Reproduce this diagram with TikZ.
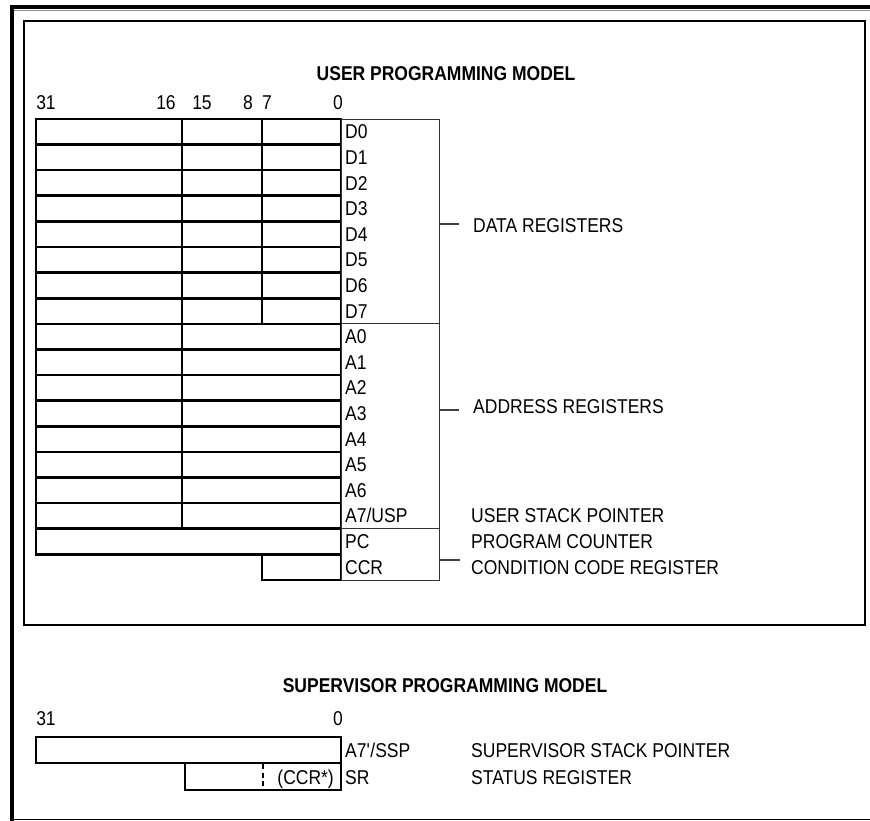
\documentclass[tikz,border=0pt]{standalone}
\usepackage{fontspec}
\setmainfont{Liberation Sans}[FakeStretch=0.875]
\usepackage{tikz}
\usetikzlibrary{positioning}
\newcommand{\regfont}{\fontsize{20}{23}\selectfont}
\tikzset{
  reg/.style={draw, line width=2.6pt},
  namebox/.style={draw=black!80, line width=1.2pt},
  lbl/.style={inner sep=0pt, text height=14.3pt, text depth=0pt, font=\regfont, anchor=west},
  bitnum/.style={inner sep=0pt, text height=14.3pt, text depth=0pt, font=\regfont},
  modeltitle/.style={inner sep=0pt, text height=14.3pt, text depth=0pt, font=\regfont\bfseries},
  tickline/.style={draw=black!75, line width=1.2pt}
}

\begin{document}
\begin{tikzpicture}[x=1pt,y=-1pt]
		\useasboundingbox (0,0) rectangle (870,821);
		
		% frames
		\draw [line width=4pt] (10,7) -- (870,7);
		\draw [line width=4pt] (12,5) -- (12,821);
		\draw [black!45,line width=1pt] (14,10.5) -- (870,10.5);
		\draw [line width=1.5pt] (12,819.5) -- (870,819.5);
		\draw [line width=1.6pt] (24,21) rectangle (865,625);
		\draw [line width=2.6pt] (865,20.2) -- (865,625.8);
		
		% user model
		\node[modeltitle] (usertitle) at (446,73) {USER PROGRAMMING MODEL};
		\node[bitnum] (b31) at (46,102) {31};
		\node[bitnum] (b16) at (166,102) {16};
		\node[bitnum] (b15) at (202,102) {15};
		\node[bitnum] (b8) at (248,102) {8};
		\node[bitnum] (b7) at (267,102) {7};
		\node[bitnum] (b0) at (338,102) {0};
		
		% data registers
		\draw [reg] (36,119) rectangle (341,323.8);
		\foreach \r in {1,...,7}
		  \draw [reg] (36,{119+25.6*\r}) -- (341,{119+25.6*\r});
		\draw [reg] (182,119) -- (182,323.8);
		\draw [reg] (262,119) -- (262,323.8);
		
		% address registers
		\draw [reg] (36,323.8) rectangle (341,528.6);
		\foreach \r in {9,...,15}
		  \draw [reg] (36,{119+25.6*\r}) -- (341,{119+25.6*\r});
		\draw [reg] (182,323.8) -- (182,528.6);
		
		% pc and ccr
		\draw [reg] (36,528.6) rectangle (341,554.2);
		\draw [reg] (262,554.2) rectangle (341,579.8);
		
		% name column
		\node[namebox, minimum width=98pt, minimum height=460.8pt, inner sep=0pt, anchor=north west] (names) at (341,119) {};
		\draw [namebox] (names.west |- 0,323.8) -- (names.east |- 0,323.8);
		\draw [namebox] (names.west |- 0,528.6) -- (names.east |- 0,528.6);
		\foreach \t [count=\i from 0] in {D0,D1,D2,D3,D4,D5,D6,D7,A0,A1,A2,A3,A4,A5,A6,A7/USP,PC,CCR}
		  \node[lbl] (reg\i) at (345,{131.8+25.6*\i}) {\t};
		
		\node[lbl] (datatxt) at (473,225) {DATA REGISTERS};
		\node[lbl] (addrtxt) at (473,406) {ADDRESS REGISTERS};
		\node[lbl] (usptxt) at (471,515.8) {USER STACK POINTER};
		\node[lbl] (pctxt) at (471,541.4) {PROGRAM COUNTER};
		\node[lbl] (ccrtxt) at (471,567) {CONDITION CODE REGISTER};
		
		\coordinate (datatick) at (459,224);
		\coordinate (addrtick) at (459,410);
		\coordinate (ccrtick) at (460,560);
		\draw [tickline] (names.east |- datatick) -- (datatick);
		\draw [tickline] (names.east |- addrtick) -- (addrtick);
		\draw [tickline] (names.east |- ccrtick) -- (ccrtick);
		
		% supervisor model
		\node[modeltitle] (suptitle) at (445,685) {SUPERVISOR PROGRAMMING MODEL};
		\node[bitnum] (s31) at (46,718) {31};
		\node[bitnum] (s0) at (338,718) {0};
		
		\draw [reg] (36,737) rectangle (341,763);
		\draw [reg] (185,763) rectangle (341,790);
		\draw [line width=2pt,dash pattern=on 5pt off 3.5pt] (263,764) -- (263,790);
		
		\node[lbl] (ssp) at (345,750) {A7\textquotesingle/SSP};
		\node[lbl] (sr) at (345,777) {SR};
		\node[lbl,anchor=east] (ccrstar) at (334,777) {(CCR*)};
		\node[lbl] (ssptxt) at (471,750) {SUPERVISOR STACK POINTER};
		\node[lbl] (srtxt) at (471,777) {STATUS REGISTER};
		
\end{tikzpicture}
\end{document}
